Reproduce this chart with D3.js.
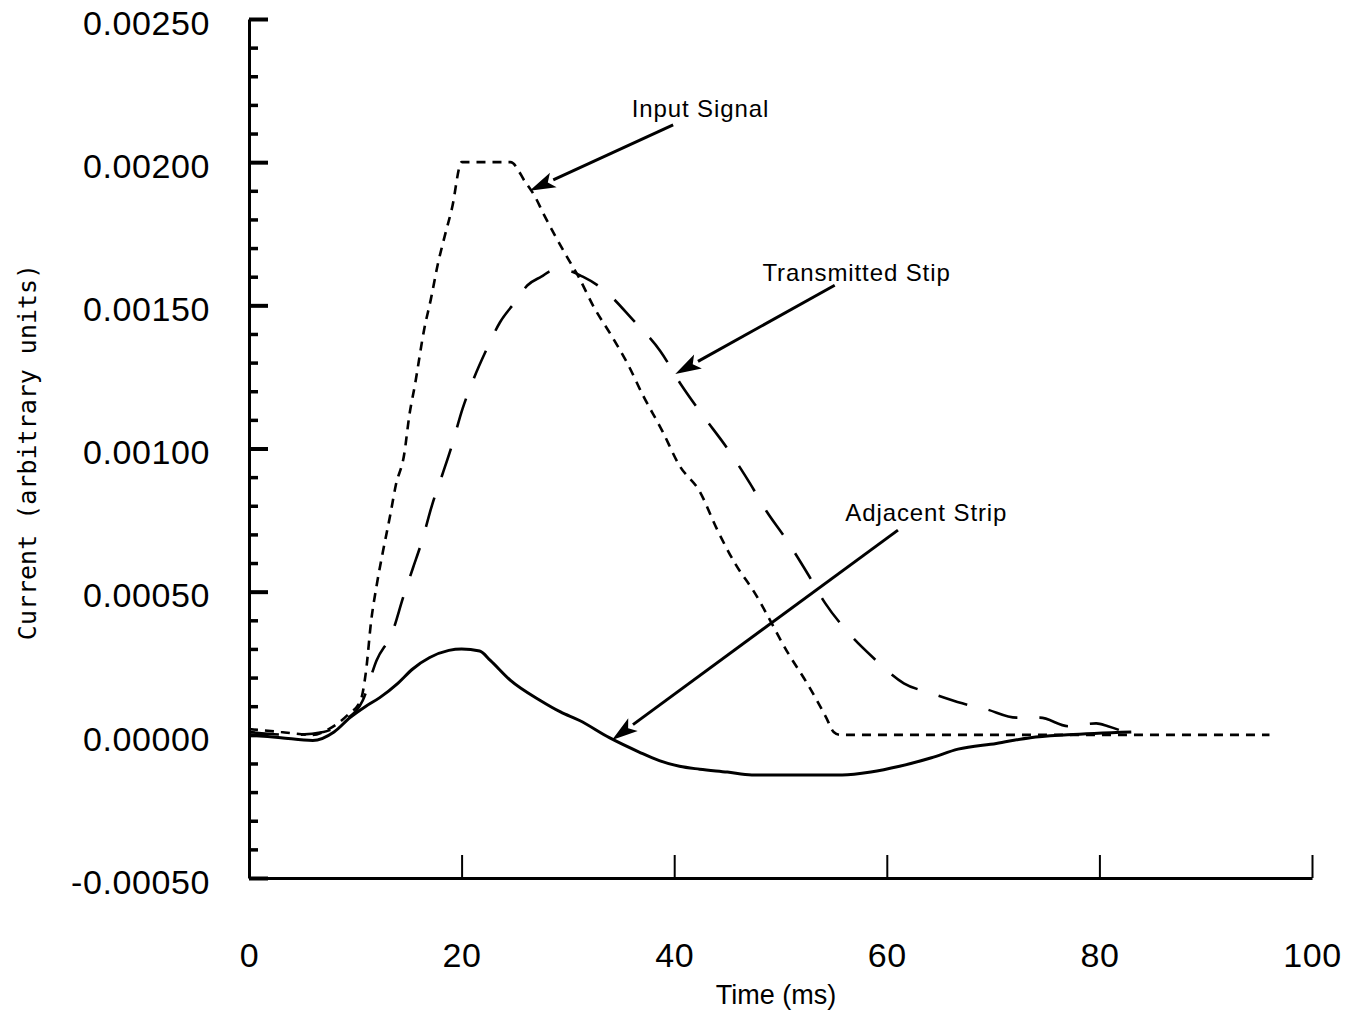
<!DOCTYPE html>
<html>
<head>
<meta charset="utf-8">
<script src="https://cdn.jsdelivr.net/npm/d3@7"></script>
<style>
  html, body { margin: 0; padding: 0; background: #fff; }
  svg { display: block; }
</style>
</head>
<body>
<svg id="chart" width="1353" height="1012"></svg>
<script>
// ---- Data: current traces versus time ----
const inputTime = [0, 3, 6, 7.5, 9.3, 10.5, 11, 11.5, 12, 12.6, 13.3, 13.8, 14.6, 15.1, 15.6, 16.5, 17.1, 17.8, 18.4, 19.1, 20, 22.5, 24.6, 26, 26.9, 27.7, 29.9, 31, 32.5, 34, 35.7, 37, 38.9, 40.5, 42.4, 44, 45.7, 47.5, 50.8, 52.5, 54.3, 55, 55.6, 96];
const inputCurrent = [0.00002, 0.00001, 0, 0.00002, 0.00007, 0.00012, 0.00022, 0.0004, 0.00052, 0.00064, 0.00077, 0.00087, 0.00098, 0.00112, 0.00122, 0.00142, 0.00152, 0.00165, 0.00174, 0.00184, 0.002, 0.002, 0.002, 0.00193, 0.00188, 0.00182, 0.00167, 0.0016, 0.00149, 0.0014, 0.00129, 0.00119, 0.00106, 0.00094, 0.00085, 0.00072, 0.0006, 0.0005, 0.00028, 0.00018, 0.00006, 0.00001, 0, 0];

const transmittedTime = [0, 4, 7, 9, 10.7, 12, 13.5, 14.5, 15.4, 16.3, 17.2, 18.2, 19, 20.1, 21.1, 22.4, 23.6, 25, 26.2, 27.5, 28.5, 30, 31.4, 33.5, 36.1, 38.7, 40.7, 42.6, 45, 47.1, 48.7, 50.4, 52.6, 54.2, 56.3, 58.7, 61.6, 64.2, 67.1, 69.3, 72.2, 74.4, 77.1, 79.7, 80.8, 83];
const transmittedCurrent = [0.00001, 0, 0.00001, 0.00005, 0.00012, 0.00026, 0.00036, 0.00048, 0.00058, 0.00068, 0.0008, 0.00091, 0.001, 0.00114, 0.00124, 0.00135, 0.00144, 0.00151, 0.00157, 0.0016, 0.00162, 0.00162, 0.0016, 0.00155, 0.00145, 0.00134, 0.00122, 0.00112, 0.001, 0.00088, 0.00078, 0.00069, 0.00056, 0.00046, 0.00036, 0.00027, 0.00018, 0.000145, 0.00011, 0.00009, 0.00006, 0.00006, 0.00003, 0.00004, 0.00003, 0];

const adjacentTime = [0, 3, 6, 8, 9.5, 11, 12.3, 14, 15.4, 17, 18.8, 20, 21.7, 22.7, 24.6, 27.4, 29.3, 31.1, 33.9, 36.7, 38.6, 40.5, 42.4, 45, 47.3, 50, 55.8, 58.5, 61.2, 64.2, 66.7, 70.3, 73.5, 77, 83];
const adjacentCurrent = [0, -0.00001, -0.00002, 0.00001, 0.00006, 0.0001, 0.00013, 0.00018, 0.00023, 0.00027, 0.000295, 0.0003, 0.000293, 0.00026, 0.00019, 0.00012, 0.00008, 0.00005, -0.00001, -0.00006, -0.00009, -0.00011, -0.00012, -0.00013, -0.00014, -0.00014, -0.00014, -0.00013, -0.00011, -0.00008, -0.00005, -0.00003, -0.00001, 0, 0.00001];

// ---- Axes ----
const xTicks = [0, 20, 40, 60, 80, 100];
const yMajorTicks = [-0.0005, 0, 0.0005, 0.001, 0.0015, 0.002, 0.0025];
const yMinorTicks = [-0.0004, -0.0003, -0.0002, -0.0001, 0.0001, 0.0002, 0.0003, 0.0004,
  0.0006, 0.0007, 0.0008, 0.0009, 0.0011, 0.0012, 0.0013, 0.0014, 0.0016, 0.0017, 0.0018, 0.0019,
  0.0021, 0.0022, 0.0023, 0.0024];
const xTitle = "Time (ms)";
const yTitle = "Current (arbitrary units)";

// ---- Callouts (text anchor, arrow tail and arrow tip in data units) ----
const calloutLabels = ["Input Signal", "Transmitted Stip", "Adjacent Strip"];
const calloutTextAt = [[36.0, 0.002158], [48.3, 0.001584], [56.1, 0.000747]];
const calloutFrom = [[39.9, 0.00213], [55.1, 0.00157], [61.05, 0.000715]];
const calloutTo = [[26.4, 0.0019], [40.1, 0.00126], [34.15, -0.000018]];

// ---- Drawing ----
const svg = d3.select("#chart");
svg.append("rect").attr("width", 1353).attr("height", 1012).attr("fill", "#fff");

const x = d3.scaleLinear().domain([0, 100]).range([249, 1312]);
const y = d3.scaleLinear().domain([-0.0005, 0.0025]).range([878, 19]);

const tickFont = "'Liberation Sans', Arial, sans-serif";
// plain hyphen for the negative sign
const yFmt = v => d3.format(".5f")(v).replace("\u2212", "-");

// y axis: major ticks with labels, pointing into the plot
const yAxisG = svg.append("g").attr("transform", `translate(${x(0)},0)`)
  .call(d3.axisLeft(y).tickValues(yMajorTicks).tickFormat(yFmt)
    .tickSizeInner(-19).tickSizeOuter(0).tickPadding(39));
yAxisG.select(".domain").attr("stroke", "#000").attr("stroke-width", 3);
yAxisG.selectAll(".tick line").attr("stroke", "#000").attr("stroke-width", 4);
yAxisG.selectAll(".tick text")
  .attr("fill", "#000").attr("font-family", tickFont).attr("font-size", 34)
  .attr("letter-spacing", 0.6)
  .attr("dy", "0.45em");

// y axis: minor ticks
const yMinorG = svg.append("g").attr("transform", `translate(${x(0)},0)`)
  .call(d3.axisLeft(y).tickValues(yMinorTicks).tickFormat("")
    .tickSizeInner(-9).tickSizeOuter(0));
yMinorG.select(".domain").remove();
yMinorG.selectAll(".tick line").attr("stroke", "#000").attr("stroke-width", 3.5);

// x axis
const xAxisG = svg.append("g").attr("transform", `translate(0,${y(-0.0005)})`)
  .call(d3.axisBottom(x).tickValues(xTicks).tickFormat(d3.format("d"))
    .tickSizeInner(-23).tickSizeOuter(0).tickPadding(65));
xAxisG.select(".domain").attr("stroke", "#000").attr("stroke-width", 3);
xAxisG.selectAll(".tick line").attr("stroke", "#000").attr("stroke-width", 2);
xAxisG.selectAll(".tick text")
  .attr("fill", "#000").attr("font-family", tickFont).attr("font-size", 34)
  .attr("letter-spacing", 0.6);

// axis titles
svg.append("text")
  .attr("x", 776).attr("y", 1004)
  .attr("text-anchor", "middle")
  .attr("font-family", tickFont).attr("font-size", 27)
  .text(xTitle);

svg.append("text")
  .attr("transform", "translate(36,452) rotate(-90)")
  .attr("text-anchor", "middle")
  .attr("font-family", "'DejaVu Sans Mono', monospace").attr("font-size", 25)
  .text(yTitle);

// traces
const line = d3.line().x(d => x(d[0])).y(d => y(d[1])).curve(d3.curveMonotoneX);
const zip = (t, v) => t.map((ti, i) => [ti, v[i]]);

svg.append("path")
  .attr("d", line(zip(inputTime, inputCurrent)))
  .attr("fill", "none").attr("stroke", "#000").attr("stroke-width", 2.6)
  .attr("stroke-dasharray", "9,7");

svg.append("path")
  .attr("d", line(zip(transmittedTime, transmittedCurrent)))
  .attr("fill", "none").attr("stroke", "#000").attr("stroke-width", 2.6)
  .attr("stroke-dasharray", "30,22");

svg.append("path")
  .attr("d", line(zip(adjacentTime, adjacentCurrent)))
  .attr("fill", "none").attr("stroke", "#000").attr("stroke-width", 3);

// callouts: label, leader line, filled arrow head
const calloutG = svg.append("g");
calloutLabels.forEach((label, i) => {
  calloutG.append("text")
    .attr("x", x(calloutTextAt[i][0])).attr("y", y(calloutTextAt[i][1]))
    .attr("font-family", tickFont).attr("font-size", 24)
    .attr("letter-spacing", 0.9)
    .text(label);

  const x1 = x(calloutFrom[i][0]), y1 = y(calloutFrom[i][1]);
  const x2 = x(calloutTo[i][0]), y2 = y(calloutTo[i][1]);
  const ang = Math.atan2(y2 - y1, x2 - x1);
  const headLen = 26, headHalf = 8;
  const bx = x2 - headLen * Math.cos(ang), by = y2 - headLen * Math.sin(ang);

  calloutG.append("line")
    .attr("x1", x1).attr("y1", y1).attr("x2", bx).attr("y2", by)
    .attr("stroke", "#000").attr("stroke-width", 3);

  const px = -Math.sin(ang), py = Math.cos(ang);
  calloutG.append("path")
    .attr("d", `M${x2},${y2}L${bx + headHalf * px},${by + headHalf * py}L${bx + 6 * Math.cos(ang)},${by + 6 * Math.sin(ang)}L${bx - headHalf * px},${by - headHalf * py}Z`)
    .attr("fill", "#000");
});
</script>
</body>
</html>
